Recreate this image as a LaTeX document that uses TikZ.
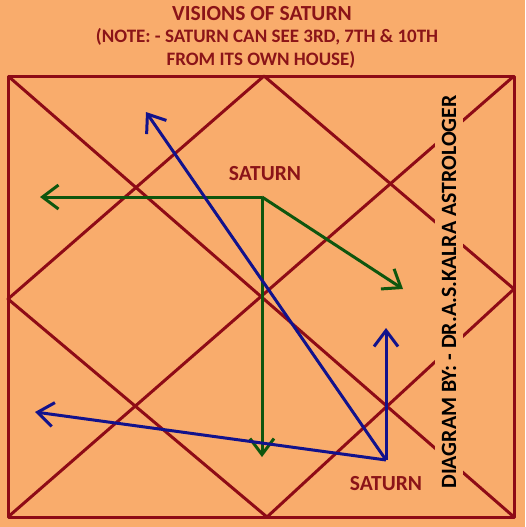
\documentclass[tikz,border=0pt]{standalone}
\usepackage{fontspec}
\setmainfont{Carlito}
\usetikzlibrary{arrows.meta}
\definecolor{chartbg}{HTML}{F9AC6C}
\definecolor{chartred}{HTML}{8E0B16}
\definecolor{titlered}{HTML}{8B1418}
\definecolor{greenline}{HTML}{0E560E}
\definecolor{blueline}{HTML}{12128C}

\begin{document}
\begin{tikzpicture}[x=1pt,y=-1pt]
\tikzstyle{every node}+=[inner sep=0pt]
\tikzstyle{house}=[draw=chartred, line width=3pt, line join=round]
\tikzstyle{vision}=[line width=3pt, -{Straight Barb[length=16pt,width=24pt]}]
\tikzstyle{caption}=[text=titlered, font=\fontsize{21.5}{25}\selectfont\bfseries]
\tikzstyle{note}=[text=titlered, font=\fontsize{19}{23}\selectfont\bfseries]
\fill [chartbg] (0,0) rectangle (525,527);
\useasboundingbox (0,0) rectangle (525,527);
% title
\node [caption] (title) at (262,14) {VISIONS OF SATURN};
\node [note] (note1) at (267,37) {(NOTE: - SATURN CAN SEE 3RD, 7TH \& 10TH};
\node [note] (note2) at (261,60) {FROM ITS OWN HOUSE)};
% chart
\coordinate (tl) at (8,76);
\coordinate (tr) at (514,76);
\coordinate (br) at (514,517);
\coordinate (bl) at (8,517);
\coordinate (tm) at (264,76);
\coordinate (rm) at (514,289);
\coordinate (bm) at (267,517);
\coordinate (lm) at (8,299);
\draw [house] (tl) -- (tr) -- (br) -- (bl) -- cycle;
\draw [house] (tl) -- (br);
\draw [house] (tr) -- (bl);
\draw [house] (tm) -- (rm) -- (bm) -- (lm) -- cycle;
% byline
\node [fill=chartbg, rotate=90, minimum width=386pt, minimum height=28pt,
  font=\fontsize{21.8}{26}\selectfont\bfseries] (byline) at (449,292)
  {DIAGRAM BY: - DR.A.S.KALRA ASTROLOGER};
% saturn in 10th
\node [caption] (satA) at (265,174) {SATURN};
\coordinate (gO) at (262,197);
\coordinate (gL) at (40,197);
\coordinate (gD) at (262,457);
\coordinate (gR) at (403,289);
\draw [vision, greenline] (gO) -- (gL);
\draw [vision, greenline] (gO) -- (gD);
\draw [vision, greenline] (gO) -- (gR);
% saturn in 3rd
\node [caption] (satB) at (386,484) {SATURN};
\coordinate (bO) at (386,460);
\coordinate (bU) at (386,328);
\coordinate (bL) at (35,412);
\coordinate (bN) at (146,112);
\draw [vision, blueline] (bO) -- (bU);
\draw [vision, blueline] (bO) -- (bL);
\draw [vision, blueline] (bO) -- (bN);
\end{tikzpicture}
\end{document}
